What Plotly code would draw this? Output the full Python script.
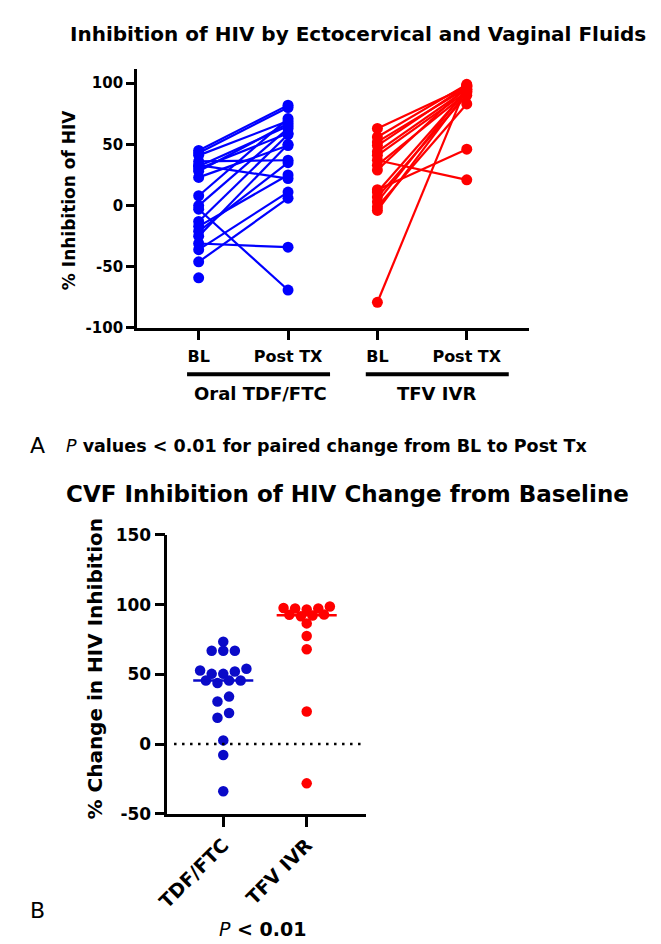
import numpy as np
import plotly.graph_objects as go

W, H = 661, 944
FONT = "DejaVu Sans"
BLUE_A = "#0000FF"
RED = "#FF0000"
BLUE_B = "#0A0AC8"

# ---------------- Panel A data ----------------
timepoints = ["BL", "Post TX"]
groups_a = ["Oral TDF/FTC", "TFV IVR"]
tdf_bl = [45, 43, 41, 36, 33, 32, 30, 28, 23, 8, 0, -3, -13, -17, -21, -25, -31, -36, -46, -59]
tdf_post = [82, 80, 69, 37, 22, 65, 59, 67, 49, 71, 63, -69, 58, 25, 35, 50, -34, 11, 6, None]
tfv_bl = [63, 56, 52, 49, 44, 41, 37, 33, 29, 13, 11, 7, 3, -1, -4, -79]
tfv_post = [97, 99, 96, 98, 95, 93, 21, 92, 97, 46, 94, 90, 95, 83, 93, 98]

# ---------------- Panel B data ----------------
groups_b = ["TDF/FTC", "TFV IVR"]
tdf_change = [73.4, 66.9, 66.9, 66.9, 54, 52.7, 52, 50.3, 50.3, 45.5, 45.5, 45.5,
              43.8, 34, 30.5, 22.2, 18.9, 2.6, -7.9, -33.8]
tfv_change = [98.6, 97.2, 97.2, 97.5, 96.5, 92.8, 92.6, 92.1, 91.6, 86.5, 77.4, 68, 23.3, -28.2]

ya_ticks = [-100, -50, 0, 50, 100]
yb_ticks = [-50, 0, 50, 100, 150]


def px2p(y):
    return 1 - y / H


def px2x(x):
    return x / W


def pairs(bl, post, xb, xp):
    xs, ys = [], []
    for b, p in zip(bl, post):
        xs += [xb, xp, None]
        ys += [b, p, None]
    return xs, ys


def row_swarm(values, spacing_px, row_tol):
    """Prism-like: group close values into rows, spread each row symmetrically."""
    order = sorted(range(len(values)), key=lambda i: values[i])
    rows, cur, start = [], [], None
    for i in order:
        v = values[i]
        if cur and v - start > row_tol:
            rows.append(cur)
            cur = []
        if not cur:
            start = v
        cur.append(i)
    if cur:
        rows.append(cur)
    offs = [0.0] * len(values)
    for r in rows:
        n = len(r)
        slots = [(k - (n - 1) / 2.0) * spacing_px for k in range(n)]
        slots.sort(key=lambda s: (abs(s), s))
        for i, s in zip(r, slots):
            offs[i] = s
    return offs


fig = go.Figure()

# Panel A lines
for gi, (bl, post, col) in enumerate([(tdf_bl, tdf_post, BLUE_A), (tfv_bl, tfv_post, RED)]):
    xs, ys = pairs(bl, post, 2 * gi + 1, 2 * gi + 2)
    fig.add_trace(go.Scatter(x=xs, y=ys, mode="lines+markers", xaxis="x", yaxis="y",
                             line=dict(color=col, width=2.2),
                             marker=dict(color=col, size=11), showlegend=False,
                             hoverinfo="skip"))

# Panel B swarm (85 px per category step)
x_px_per_unit = 85.0
for gi, (vals, col) in enumerate([(tdf_change, BLUE_B), (tfv_change, RED)]):
    offs = row_swarm(vals, 11.8, 4.0)
    xs = [gi + 1 + o / x_px_per_unit for o in offs]
    fig.add_trace(go.Scatter(x=xs, y=vals, mode="markers", xaxis="x2", yaxis="y2",
                             marker=dict(color=col, size=10.5), showlegend=False,
                             hoverinfo="skip"))
    med = float(np.median(vals))
    fig.add_shape(type="line", xref="x2", yref="y2", x0=gi + 1 - 0.36, x1=gi + 1 + 0.36,
                  y0=med, y1=med, line=dict(color=col, width=2.5))

# zero dotted line
fig.add_shape(type="line", xref="x2", yref="y2", x0=0.41, x1=2.70, y0=0, y1=0,
              line=dict(color="black", width=2.5, dash="2.5px,5.5px"))

# group bars panel A
for gi in range(2):
    fig.add_shape(type="line", xref="x", yref="paper", x0=2 * gi + 1 - 0.13, x1=2 * gi + 2 + 0.47,
                  y0=px2p(364), y1=px2p(364), line=dict(color="black", width=4))

axis_common = dict(showline=True, linecolor="black", linewidth=2.5, ticks="outside",
                   tickcolor="black", tickwidth=2.5, showgrid=False, zeroline=False,
                   fixedrange=True)


def tf(size):
    return dict(family=FONT, size=size, color="black", weight="bold")


fig.update_layout(
    width=W, height=H, margin=dict(l=0, r=0, t=0, b=0),
    paper_bgcolor="white", plot_bgcolor="white",
    xaxis=dict(domain=[px2x(119), px2x(518)], range=[0.308, 4.692], anchor="y",
               tickvals=[1, 2, 3, 4], ticktext=timepoints * 2, ticklen=9,
               tickfont=tf(16), ticklabelstandoff=3, **axis_common),
    yaxis=dict(domain=[px2p(316.7), px2p(52)], range=[-100, 111.6], anchor="x",
               tickvals=ya_ticks, ticktext=[str(v) for v in ya_ticks], ticklen=8,
               tickfont=tf(15), **axis_common),
    xaxis2=dict(domain=[px2x(150), px2x(352)], range=[0.329, 2.706], anchor="y2",
                tickvals=[1, 2], ticktext=groups_b, tickangle=-45, ticklen=10,
                tickfont=tf(19), **axis_common),
    yaxis2=dict(domain=[px2p(813), px2p(528)], range=[-50, 150], anchor="x2",
                tickvals=yb_ticks, ticktext=[str(v) for v in yb_ticks], ticklen=10,
                tickfont=tf(17), **axis_common),
)


def ann(text, x, y, size, bold=True, xanchor="center", angle=0):
    fig.add_annotation(text=text, x=px2x(x), y=px2p(y), xref="paper", yref="paper",
                       xanchor=xanchor, yanchor="middle", showarrow=False, textangle=angle,
                       font=dict(family=FONT, size=size, color="black",
                                 weight="bold" if bold else "normal"))


ann("Inhibition of HIV by Ectocervical and Vaginal Fluids", 344, 16, 20)
ann("% Inhibition of HIV", 50, 186, 17, angle=-90)
ann(groups_a[0], 245, 384, 18)
ann(groups_a[1], 424, 384, 18)
ann("A", 8, 437, 22, bold=False, xanchor="left")
ann("<i style='font-weight:normal'>P</i> values < 0.01 for paired change from BL to Post Tx",
    45, 437, 17.5, xanchor="left")
ann("CVF Inhibition of HIV Change from Baseline", 334, 486, 23)
ann("% Change in HIV Inhibition", 76, 665, 20, angle=-90)
ann("B", 8, 912, 22, bold=False, xanchor="left")
ann("<i style='font-weight:normal'>P</i> < 0.01", 248, 931, 19)

fig.write_html("out.html")
